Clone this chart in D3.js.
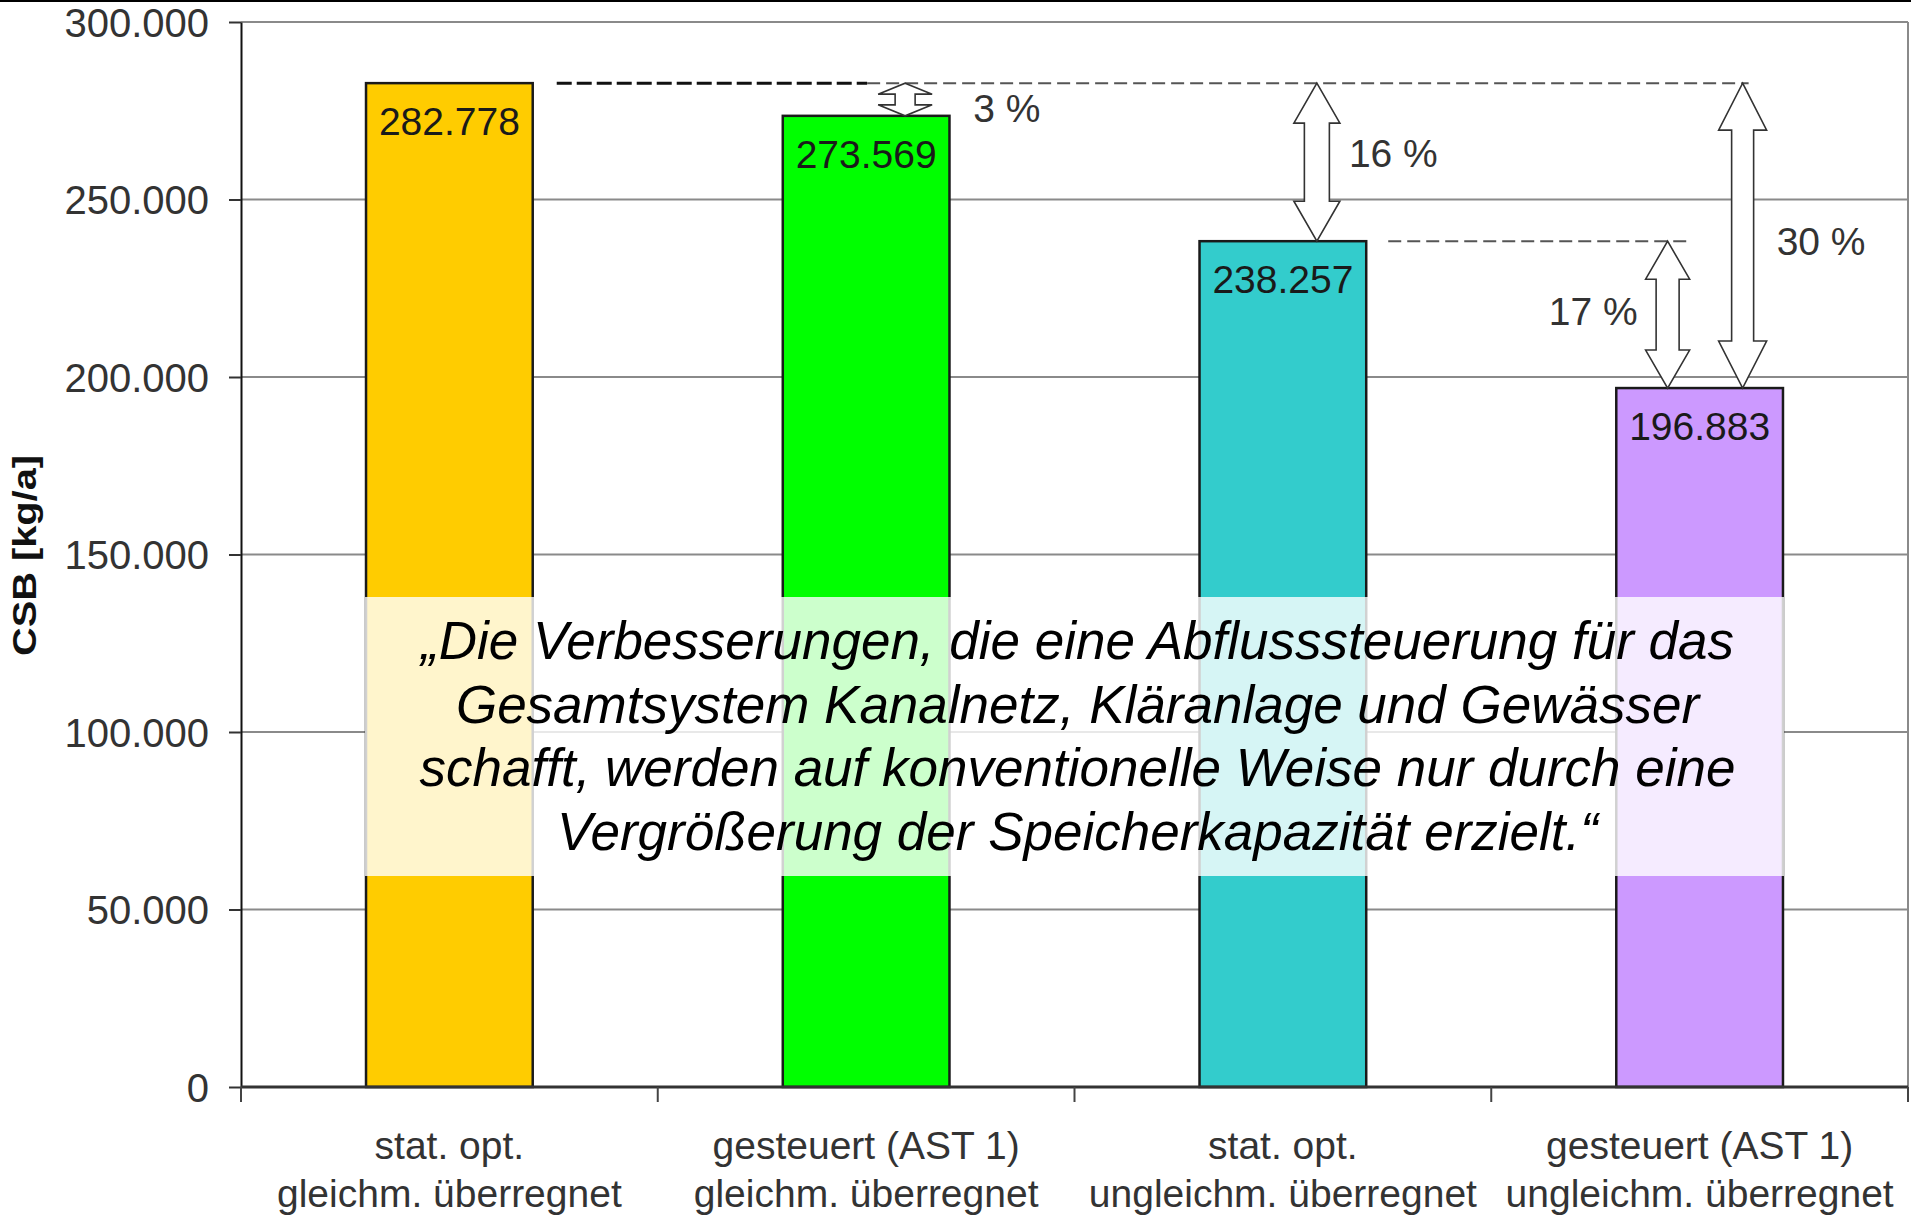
<!DOCTYPE html>
<html>
<head>
<meta charset="utf-8">
<script src="https://cdn.jsdelivr.net/npm/d3@7"></script>
<style>
  body { margin: 0; background: #fff; }
  text { font-family: "Liberation Sans", Arial, sans-serif; }
</style>
</head>
<body>
<div id="chart"></div>
<script>
var categories = ['a', 'b', 'c', 'd']
var labelTop = ['stat. opt.', 'gesteuert (AST 1)', 'stat. opt.', 'gesteuert (AST 1)']
var labelBottom = ['gleichm. überregnet', 'gleichm. überregnet', 'ungleichm. überregnet', 'ungleichm. überregnet']
var values = [282778, 273569, 238257, 196883]
var colors = ['#ffcc00', '#00ff00', '#33cccc', '#cc99ff']
var yTicks = [0, 50000, 100000, 150000, 200000, 250000, 300000]

// arrows between bars: from bar index, to bar index, label
var arrowFrom = [0, 0, 2, 0]
var arrowTo = [1, 2, 3, 3]
var arrowLabels = ['3 %', '16 %', '17 %', '30 %']

var quote = [
  '„Die Verbesserungen, die eine Abflusssteuerung für das',
  'Gesamtsystem Kanalnetz, Kläranlage und Gewässer',
  'schafft, werden auf konventionelle Weise nur durch eine',
  'Vergrößerung der Speicherkapazität erzielt.“'
]

var W = 1911, H = 1225
var m = {left: 241, right: 3, top: 22, bottom: 138}

var de = d3.formatLocale({decimal: ',', thousands: '.', grouping: [3], currency: ['', '€']})
var fmt = de.format(',d')

var svg = d3.select('#chart').append('svg').attr('width', W).attr('height', H)
svg.append('rect').attr('width', W).attr('height', H).attr('fill', '#fff')
svg.append('rect').attr('width', W).attr('height', 2).attr('fill', '#000')

var x = d3.scaleBand().domain(categories).range([m.left, W - m.right]).paddingInner(0.6).paddingOuter(0.3)
var y = d3.scaleLinear().domain([0, 300000]).range([H - m.bottom, m.top])
var bw = x.bandwidth()
var cx = function(i){ return x(categories[i]) + bw / 2 }

// gridlines
svg.append('g').selectAll('line').data(yTicks.filter(function(d){ return d > 0 }))
  .join('line')
  .attr('x1', m.left).attr('x2', W - m.right)
  .attr('y1', function(d){ return y(d) }).attr('y2', function(d){ return y(d) })
  .attr('stroke', '#8a8a8a').attr('stroke-width', 2)

svg.append('line')
  .attr('x1', W - m.right).attr('x2', W - m.right)
  .attr('y1', y(300000)).attr('y2', y(0))
  .attr('stroke', '#8a8a8a').attr('stroke-width', 2)

// y axis
var yAxis = svg.append('g').attr('transform', 'translate(' + m.left + ',0)')
  .call(d3.axisLeft(y).tickValues(yTicks).tickSize(12).tickSizeOuter(0).tickPadding(20).tickFormat(fmt))
yAxis.select('.domain').attr('stroke', '#111').attr('stroke-width', 2)
yAxis.selectAll('.tick line').attr('stroke', '#333').attr('stroke-width', 2)
yAxis.selectAll('.tick text')
  .attr('font-size', 40).attr('fill', '#333').attr('dy', '0.36em')
  .style('font-family', '"Liberation Sans", Arial, sans-serif')

// bars
svg.append('g').selectAll('rect').data(values)
  .join('rect')
  .attr('x', function(d, i){ return x(categories[i]) })
  .attr('y', function(d){ return y(d) })
  .attr('width', bw)
  .attr('height', function(d){ return y(0) - y(d) })
  .attr('fill', function(d, i){ return colors[i] })
  .attr('stroke', '#1a1a1a').attr('stroke-width', 2.5)

svg.append('g').selectAll('text').data(values)
  .join('text')
  .attr('x', function(d, i){ return cx(i) })
  .attr('y', function(d){ return y(d) + 52 })
  .attr('text-anchor', 'middle').attr('font-size', 39).attr('fill', '#1a1a1a')
  .text(function(d){ return fmt(d) })

// x axis
var step = x.step()
var bounds = d3.range(categories.length + 1).map(function(i){ return x.range()[0] + i * step })
svg.append('line')
  .attr('x1', m.left).attr('x2', W - m.right)
  .attr('y1', y(0)).attr('y2', y(0))
  .attr('stroke', '#333').attr('stroke-width', 3)
svg.append('g').selectAll('line').data(bounds)
  .join('line')
  .attr('x1', function(d){ return d }).attr('x2', function(d){ return d })
  .attr('y1', y(0)).attr('y2', y(0) + 15)
  .attr('stroke', '#444').attr('stroke-width', 2)

var xl = svg.append('g').selectAll('text').data(categories)
  .join('text')
  .attr('text-anchor', 'middle').attr('font-size', 39).attr('fill', '#333')
xl.append('tspan').attr('x', function(d, i){ return cx(i) }).attr('y', y(0) + 72)
  .text(function(d, i){ return labelTop[i] })
xl.append('tspan').attr('x', function(d, i){ return cx(i) }).attr('y', y(0) + 120)
  .text(function(d, i){ return labelBottom[i] })

// y title
svg.append('text')
  .attr('transform', 'translate(36,' + ((y(0) + y(300000)) / 2 + 1) + ') rotate(-90)')
  .attr('text-anchor', 'middle').attr('font-size', 33).attr('font-weight', 'bold').attr('fill', '#111')
  .attr('textLength', 201).attr('lengthAdjust', 'spacingAndGlyphs')
  .text('CSB [kg/a]')

// dashed reference lines
var arrowX = [cx(1) + 39, cx(2) + 34, cx(3) - 32, cx(3) + 43]
svg.append('line')
  .attr('x1', x(categories[0]) + bw + 24).attr('x2', arrowX[0] - 38)
  .attr('y1', y(values[0])).attr('y2', y(values[0]))
  .attr('stroke', '#111').attr('stroke-width', 3).attr('stroke-dasharray', '15,5')
svg.append('line')
  .attr('x1', arrowX[0] - 38).attr('x2', arrowX[3] + 6)
  .attr('y1', y(values[0])).attr('y2', y(values[0]))
  .attr('stroke', '#555').attr('stroke-width', 2).attr('stroke-dasharray', '13,6')
svg.append('line')
  .attr('x1', x(categories[2]) + bw + 22).attr('x2', arrowX[2] + 22)
  .attr('y1', y(values[2])).attr('y2', y(values[2]))
  .attr('stroke', '#555').attr('stroke-width', 2).attr('stroke-dasharray', '13,6')

// double headed block arrows
function arrowPath(xc, y1, y2, hw, sw, hl){
  var a = hw / 2, s = sw / 2
  return 'M' + xc + ',' + y1 +
    'L' + (xc + a) + ',' + (y1 + hl) + 'L' + (xc + s) + ',' + (y1 + hl) +
    'L' + (xc + s) + ',' + (y2 - hl) + 'L' + (xc + a) + ',' + (y2 - hl) +
    'L' + xc + ',' + y2 +
    'L' + (xc - a) + ',' + (y2 - hl) + 'L' + (xc - s) + ',' + (y2 - hl) +
    'L' + (xc - s) + ',' + (y1 + hl) + 'L' + (xc - a) + ',' + (y1 + hl) + 'Z'
}
var headW = [54, 46, 44, 48]
var shaftW = [20, 25, 23, 22]
var headL = [11, 40, 38, 47]
svg.append('g').selectAll('path').data(arrowLabels)
  .join('path')
  .attr('d', function(d, i){
    return arrowPath(arrowX[i], y(values[arrowFrom[i]]), y(values[arrowTo[i]]), headW[i], shaftW[i], headL[i])
  })
  .attr('fill', '#fff').attr('stroke', '#333').attr('stroke-width', 1.6).attr('stroke-linejoin', 'miter')

var labX = [arrowX[0] + 68, arrowX[1] + 32, arrowX[2] - 30, arrowX[3] + 34]
var labY = [122, 167, 325, 255]
var labAnchor = ['start', 'start', 'end', 'start']
svg.append('g').selectAll('text').data(arrowLabels)
  .join('text')
  .attr('x', function(d, i){ return labX[i] })
  .attr('y', function(d, i){ return labY[i] })
  .attr('text-anchor', function(d, i){ return labAnchor[i] })
  .attr('font-size', 39).attr('fill', '#333')
  .text(function(d){ return d })

// quote overlay
svg.append('rect')
  .attr('x', x(categories[0]) - 1).attr('y', 597)
  .attr('width', x(categories[3]) + bw - x(categories[0]) + 2).attr('height', 279)
  .attr('fill', '#fff').attr('opacity', 0.8)

svg.append('g').selectAll('text').data(quote)
  .join('text')
  .attr('x', (m.left + W - m.right) / 2 + 3)
  .attr('y', function(d, i){ return 659 + i * 63.5 })
  .attr('text-anchor', 'middle').attr('font-size', 53).attr('font-style', 'italic').attr('fill', '#000')
  .text(function(d){ return d })
</script>
</body>
</html>
